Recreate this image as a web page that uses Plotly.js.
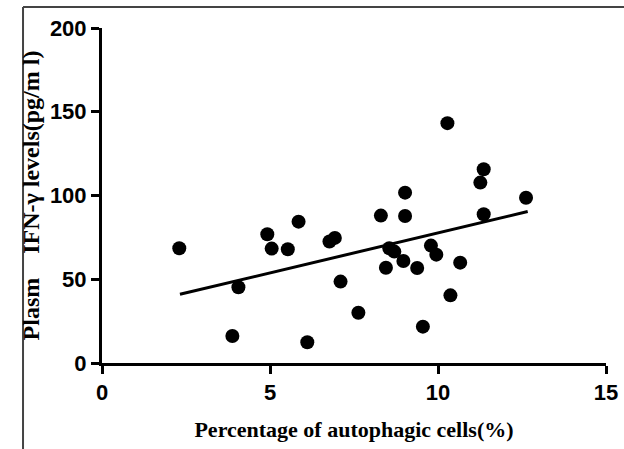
<!DOCTYPE html>
<html>
<head>
<meta charset="utf-8">
<script src="https://cdn.plot.ly/plotly-3.0.1.min.js"></script>
<style>html,body{margin:0;padding:0;background:#fff;}#chart{width:624px;height:449px;}</style>
</head>
<body>
<div id="chart"></div>
<script>
// Percentage of autophagic cells (%)
var autophagyPct = [2.30, 3.88, 4.06, 4.92, 5.05, 5.53, 5.85, 6.11, 6.77, 6.93, 7.10, 7.63,
  8.30, 8.45, 8.55, 8.70, 8.97, 9.02, 9.02, 9.38, 9.55, 9.79, 9.95, 10.28, 10.37, 10.66,
  11.26, 11.36, 11.36, 12.62];
// Plasma IFN-γ levels (pg/ml)
var ifnGamma = [68.5, 16.1, 45.2, 76.9, 68.3, 67.9, 84.4, 12.4, 72.5, 74.7, 48.6, 30.0,
  88.0, 56.9, 68.5, 66.5, 60.9, 101.7, 87.8, 56.7, 21.7, 70.1, 64.7, 143.2, 40.4, 59.9,
  107.7, 115.7, 88.8, 98.7];
// Fitted regression line endpoints
var fitX = [2.32, 12.67];
var fitY = [41.0, 90.4];
var xTicks = [0, 5, 10, 15];
var yTicks = [0, 50, 100, 150, 200];

var traces = [
  {x: autophagyPct, y: ifnGamma, type: 'scatter', mode: 'markers',
   marker: {color: '#000', size: 14}, cliponaxis: false, hoverinfo: 'x+y'},
  {x: fitX, y: fitY, type: 'scatter', mode: 'lines',
   line: {color: '#000', width: 3}, cliponaxis: false}
];

var tickFont = {family: 'Liberation Sans, Arial, sans-serif', size: 22, color: '#000', weight: 700};
var titleFont = {family: 'Liberation Serif, Times New Roman, serif', size: 22, color: '#000', weight: 700};
var yTitleFont = {family: 'Liberation Serif, Times New Roman, serif', size: 24, color: '#000', weight: 700};

var layout = {
  width: 624, height: 449,
  margin: {l: 102, r: 18, t: 28, b: 86},
  paper_bgcolor: '#fff', plot_bgcolor: '#fff',
  showlegend: false,
  xaxis: {
    range: [0, 15], tickvals: xTicks, ticktext: xTicks.map(function (v) { return '<b>' + v + '</b>'; }),
    showgrid: false, zeroline: false, showline: true, linecolor: '#000', linewidth: 3,
    ticks: 'outside', ticklen: 8, tickwidth: 3, tickcolor: '#000',
    tickfont: tickFont,
    title: {text: '<b>Percentage of autophagic cells(%)</b>', standoff: 18, font: titleFont}
  },
  yaxis: {
    range: [0, 200], tickvals: yTicks, ticktext: yTicks.map(function (v) { return '<b>' + v + '</b>'; }),
    showgrid: false, zeroline: false, showline: true, linecolor: '#000', linewidth: 3,
    ticks: 'outside', ticklen: 8, tickwidth: 3, tickcolor: '#000',
    tickfont: tickFont,
    title: {text: '<b>Plasm\u00a0\u00a0\u00a0 IFN-γ levels(pg/m l)</b>', standoff: 4, font: yTitleFont}
  },
  shapes: [
    {type: 'line', xref: 'paper', yref: 'paper', x0: -0.1567, x1: 1.05, y0: 1.0628, y1: 1.0628,
     line: {color: '#444', width: 2}},
    {type: 'line', xref: 'paper', yref: 'paper', x0: -0.1567, x1: -0.1567, y0: 1.0628, y1: -0.3,
     line: {color: '#444', width: 2}}
  ]
};

Plotly.newPlot('chart', traces, layout, {displayModeBar: false, staticPlot: true});
</script>
</body>
</html>
